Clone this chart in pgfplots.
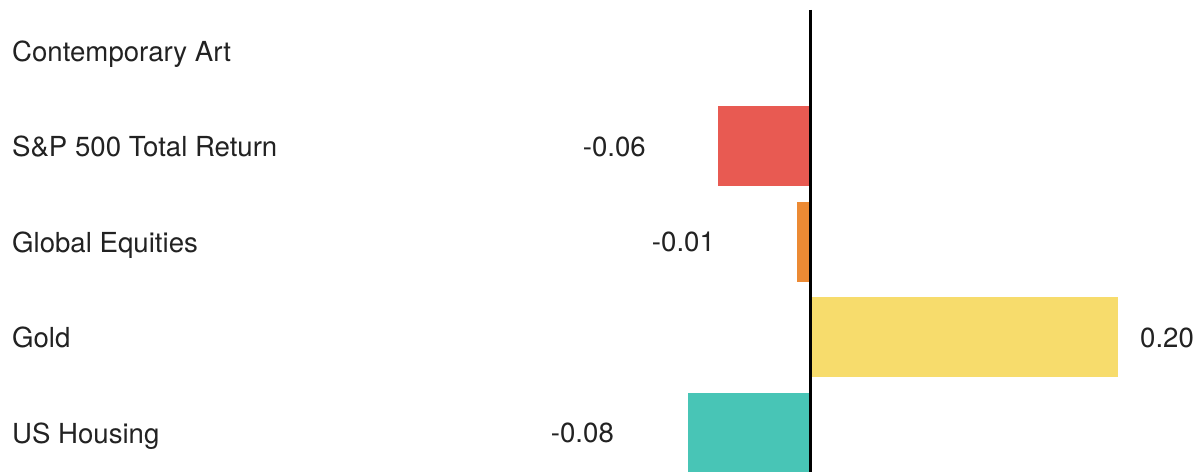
\documentclass[border=0pt]{standalone}
\usepackage{pgfplots}
\pgfplotsset{compat=1.18}
\usepackage{pgfplotstable}
\usepackage{fontspec}
\setmainfont{TeX Gyre Heros}
\definecolor{cred}{RGB}{232,90,82}
\definecolor{corange}{RGB}{236,138,52}
\definecolor{cyellow}{RGB}{247,220,108}
\definecolor{cteal}{RGB}{72,197,182}
\definecolor{textgray}{RGB}{34,34,34}

\pgfplotstableread{
y x label
0 -0.5202 {Contemporary Art}
1 -0.5202 {S\&P 500 Total Return}
2 -0.5202 {Global Equities}
3 -0.5202 {Gold}
4 -0.5202 {US Housing}
}\categories

\pgfplotstableread{
y x label
1 -0.1072 -0.06
2 -0.0622 -0.01
4 -0.1280 -0.08
}\neglabels

\pgfplotstableread{
y x label
3 0.2146 0.20
}\poslabels

\begin{document}
\begin{tikzpicture}
\begin{axis}[
  width=1198pt, height=472pt, scale only axis,
  xmin=-0.528, xmax=0.2524, ymin=-0.534, ymax=4.41, y dir=reverse,
  axis line style={draw=none}, xtick=\empty, ytick=\empty,
  clip=true,
]
\addplot[xbar, bar width=0.838, bar shift=0pt, fill=cred, draw=none] coordinates {(-0.06,1)};
\addplot[xbar, bar width=0.838, bar shift=0pt, fill=corange, draw=none] coordinates {(-0.009,2)};
\addplot[xbar, bar width=0.838, bar shift=0pt, fill=cyellow, draw=none] coordinates {(0.20,3)};
\addplot[xbar, bar width=0.838, bar shift=0pt, fill=cteal, draw=none] coordinates {(-0.08,4)};

\addplot[only marks, mark=none, nodes near coords, point meta=explicit symbolic,
  every node near coord/.append style={anchor=west, inner sep=0pt, text depth=0pt,
    font=\fontsize{27.6}{32}\selectfont, text=textgray}]
  table[x=x, y=y, meta=label] {\categories};
\addplot[only marks, mark=none, nodes near coords, point meta=explicit symbolic,
  every node near coord/.append style={anchor=east, inner sep=0pt, text depth=0pt,
    font=\fontsize{27.6}{32}\selectfont, text=textgray}]
  table[x=x, y=y, meta=label] {\neglabels};
\addplot[only marks, mark=none, nodes near coords, point meta=explicit symbolic,
  every node near coord/.append style={anchor=west, inner sep=0pt, text depth=0pt,
    font=\fontsize{27.6}{32}\selectfont, text=textgray}]
  table[x=x, y=y, meta=label] {\poslabels};

\draw[black, line width=3.2pt] (axis cs:0,-0.43) -- (axis cs:0,4.41);
\end{axis}
\end{tikzpicture}
\end{document}
